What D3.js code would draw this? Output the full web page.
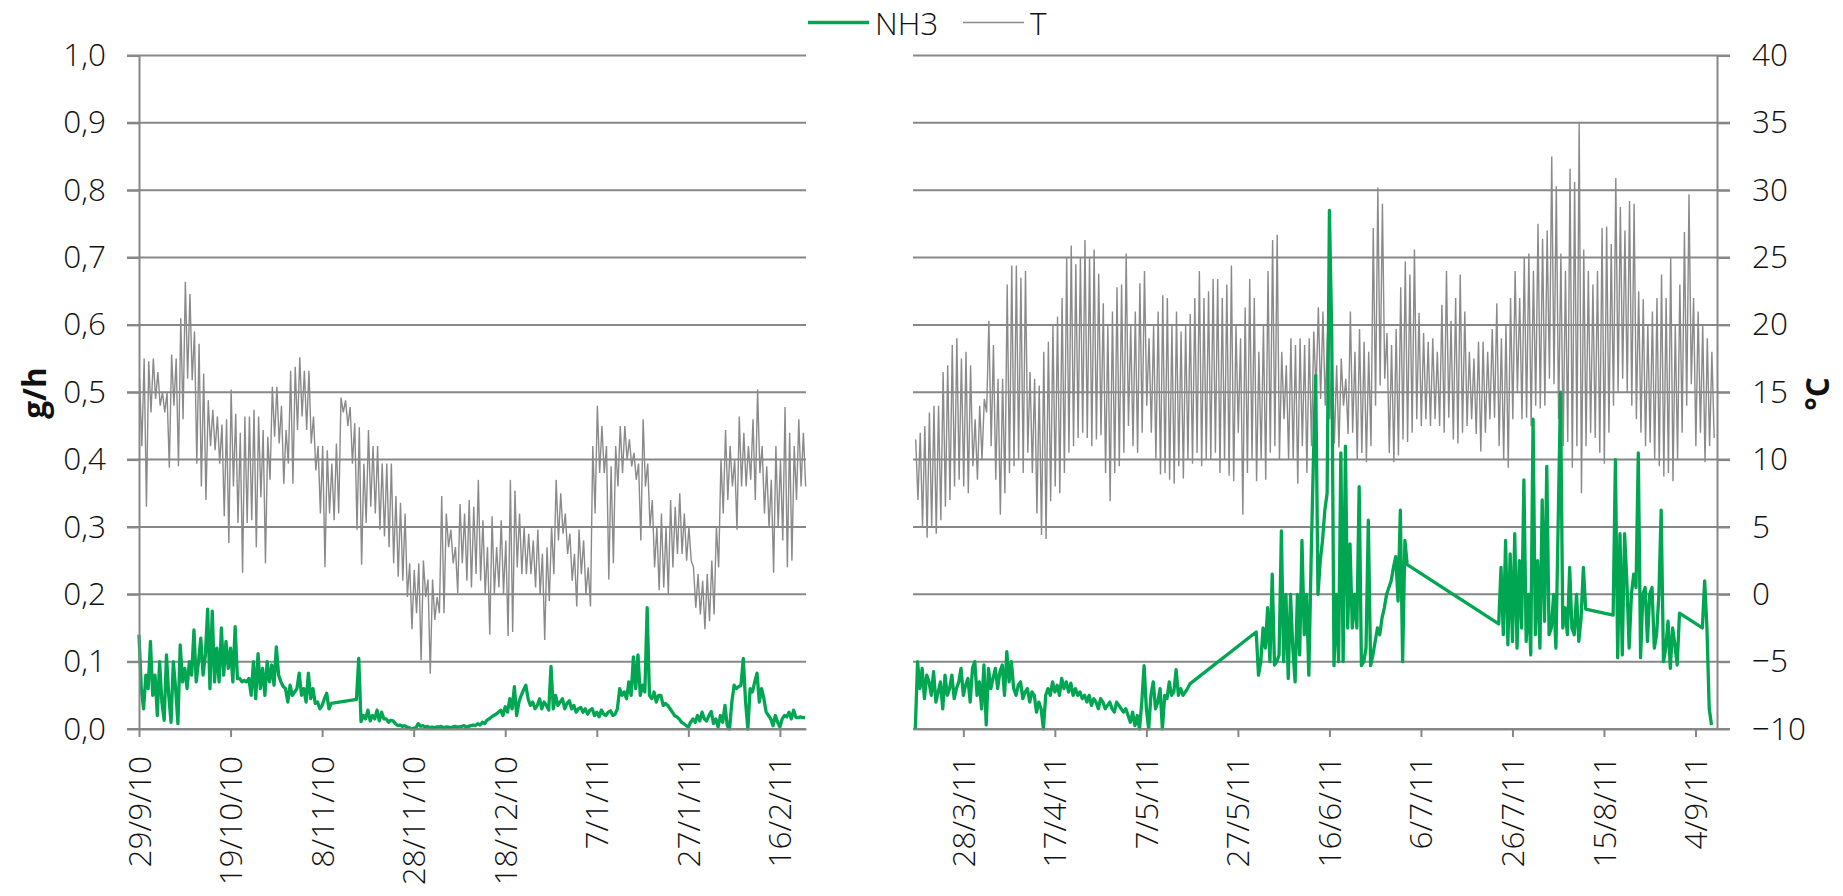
<!DOCTYPE html>
<html>
<head>
<meta charset="utf-8">
<script src="https://cdnjs.cloudflare.com/ajax/libs/d3/7.8.5/d3.min.js"></script>
<style>
body { margin: 0; background: #fff; }
svg text { font-family: "Open Sans", "Noto Sans", sans-serif; fill: #111; }
</style>
</head>
<body>
<script>
// canvas
var w = 1843;
var h = 896;

// ---- data ----
// two samples a day (12 h apart), left block starts 29/9/10, right block 17/3/11
// T in °C, NH3 in g/h, null = no measurement (line is bridged)
var leftStartDate = "29/9/10";
var rightStartDate = "17/3/11";

var leftTicks = ["29/9/10", "19/10/10", "8/11/10", "28/11/10", "18/12/10", "7/1/11", "27/1/11", "16/2/11"];
var rightTicks = ["28/3/11", "17/4/11", "7/5/11", "27/5/11", "16/6/11", "6/7/11", "26/7/11", "15/8/11", "4/9/11"];
var nh3Ticks = [0, 0.1, 0.2, 0.3, 0.4, 0.5, 0.6, 0.7, 0.8, 0.9, 1.0];
var tempTicks = [-10, -5, 0, 5, 10, 15, 20, 25, 30, 35, 40];

var leftTemp = [
  16,11, 17.5,6.5, 17.3,13.5, 17.5,14.5, 16.5,14, 15,13.5, 15,9.4, 17.8,14, 17.5,9.5, 20.5,13,
  23.2,16, 22.3,15.9, 19.5,9.7, 18.6,8, 16.4,7, 14.4,11, 13.7,10.7, 13.2,9.7, 12.6,5.8, 13,3.8,
  15.2,8, 13.4,5.3, 12,1.6, 13.2,5.3, 13.2,5.5, 13.7,3.5, 13.2,7.2, 12.2,2.3, 11.7,8.5, 15.4,11.7,
  15.4,11.2, 14,8.2, 12.2,9.7, 16.6,8.2, 16.9,12.2, 17.6,13.2, 16.6,12.2, 16.6,11.2, 13.2,9.2, 11,6,
  11,2, 10.7,6, 9.7,5.5, 11.2,6, 14.6,13.5, 14.4,12.5, 13.9,9.7, 12.7,4.8, 12.4,2.2, 9.7,5.3,
  12.2,6.5, 11,6, 11,4.8, 9.7,4.3, 9.7,3.5, 9.7,2.3, 7.3,1.3, 6.8,1, 6,-0.2, 2.3,-2.6,
  1.8,-1.4, 2.3,-4.9, 2.5,-0.2, 1.1,-5.9, 1.1,-1.9, -0.2,-1.4, 7.3,-1.4, 6,3.5, 4.8,2.3, 3.5,0.1,
  6.7,2.3, 6,1, 7,0.5, 6.5,1.5, 8.5,1, 5.5,0, 3.5,-3, 5.8,0, 3.5,0.5, 5.5,0,
  4,-3.1, 8.5,-2.8, 7.7,2, 6,1.5, 5,1.5, 4.5,1.5, 4,0.5, 4.8,0, 3,-3.4, 3.5,-0.5,
  5,1.5, 8.5,4, 7.5,4.5, 6,3, 4.5,1, 3,-0.9, 4.8,1.5, 4,0, 2,-0.9, 11,6,
  14,9, 12.5,9, 11,1.1, 9.5,2.3, 11,8, 12.5,9, 12.5,10, 11.5,9.5, 10.5,8.5, 9.7,4,
  13,8, 9.7,5, 7,2, 5,0.3, 6,0.5, 5,0, 7,2, 6.5,3, 7.5,3, 6,2.5,
  5,2.5, 2,-1, 1.5,-1.5, 1,-2.6, 1.5,-2, 2.5,-1.5, 5,2, 10,6, 12.2,7, 11,8,
  10,4.8, 13.2,8, 12,8, 11,8.5, 13,7, 15.2,9, 11,6, 9.5,5, 8.5,1.6, 11,5,
  10,4, 13.9,2, 12,2.5, 11,7, 13,8, 12,8
];

var leftNh3 = [
  0.14,0.06, 0.03,0.08, 0.06,0.13, 0.05,0.08, 0.02,0.1, 0.04,0.013, 0.11,0.05, 0.01,0.1, 0.06,0.008, 0.125,0.07,
  0.09,0.06, 0.1,0.08, 0.147,0.07, 0.1,0.135, 0.08,0.11, 0.178,0.06, 0.175,0.07, 0.12,0.07, 0.15,0.08, 0.13,0.09,
  0.12,0.07, 0.152,0.075, 0.075,0.07, 0.072,0.07, 0.075,0.05, 0.1,0.045, 0.112,0.06, 0.09,0.05, 0.1,0.07, 0.095,0.065,
  0.122,0.08, 0.07,0.063, 0.06,0.04, 0.065,0.05, 0.055,0.06, 0.083,0.05, 0.06,0.04, 0.083,0.045, 0.06,0.038, 0.04,0.03,
  0.035,0.045, 0.053,0.03, 0.038,null, null,null, null,null, null,null, null,null, null,0.044, 0.105,0.011, 0.02,0.015,
  0.028,0.012, 0.02,0.015, 0.028,0.012, 0.025,0.015, 0.015,0.01, 0.013,0.012, 0.008,0.005, 0.006,0.004, 0.005,0.003, 0.002,0,
  0.001,0.002, 0.008,0.004, 0.005,0.003, 0.004,0.002, 0.003,0.002, 0.003,0.003, 0.004,0.002, 0.003,0.003, 0.002,0.003, 0.004,0.003,
  0.003,0.004, 0.005,0.003, 0.004,0.005, 0.006,0.005, 0.008,0.006, 0.01,0.008, 0.013,0.015, 0.018,0.02, 0.022,0.025, 0.028,0.02,
  0.033,0.025, 0.045,0.03, 0.063,0.02, 0.04,0.05, 0.058,0.065, 0.045,0.035, 0.04,0.03, 0.035,0.045, 0.03,0.04, 0.035,0.028,
  0.093,0.03, 0.05,0.035, 0.04,0.045, 0.03,0.038, 0.042,0.03, 0.035,0.025, 0.03,0.032, 0.025,0.03, 0.022,0.028, 0.03,0.02,
  0.025,0.018, 0.028,0.022, 0.02,0.025, 0.027,0.02, 0.022,0.03, 0.06,0.05, 0.055,0.045, 0.07,0.05, 0.107,0.06, 0.11,0.05,
  0.065,0.055, 0.18,0.05, 0.045,0.055, 0.04,0.05, 0.05,0.035, 0.038,0.035, 0.03,0.025, 0.02,0.018, 0.015,0.01, 0.008,0.005,
  0.003,0.01, 0.015,0.01, 0.02,0.012, 0.025,0.015, 0.012,0.02, 0.026,0.008, 0.015,0.003, 0.02,0.01, 0.035,0.005, 0,0.04,
  0.065,0.06, 0.063,0.065, 0.105,0.04, 0,0.06, 0.055,0.07, 0.083,0.04, 0.06,0.045, 0.025,0.02, 0.015,0.005, 0.02,0.01,
  0.003,0.015, 0.02,0.018, 0.025,0.015, 0.028,0.017, 0.017,0.018, 0.017,0.017
];

var rightTemp = [
  11.5,7, 12,5, 12.5,4.2, 13.5,5, 14,4.5, 14,5.5, 16.5,6.5, 17,7, 18.5,8, 19,8.5,
  17.5,8, 18,7.5, 17,9.5, 13,8.5, 14,10, 14.5,13.5, 20.3,11, 18.5,8.5, 16,5.9, 16,7.5,
  23,9, 24.4,9.5, 24.4,10, 23.5,9, 24,10.5, 16.5,9, 16,6, 15.5,4.4, 18,4.1, 18.75,6.9,
  20,8, 20.6,7.5, 22,9, 25,10.5, 25.9,11, 24.5,11.6, 25,12, 26.3,11.6, 25,11, 25.6,11.5,
  23.8,11.8, 21.6,9, 20,6.9, 21,9, 22.8,9.5, 23,10.5, 25.3,12.5, 20,11, 21,10.5, 23.1,12,
  24,14, 19,12, 20,10, 21,8.9, 22.2,9, 22,8.5, 20,8.2, 21,9.5, 19.5,8.6, 20,10,
  20.8,9.7, 22,10.5, 24,9.5, 22,10, 22.5,10, 23.4,10.5, 23.4,9, 22,10, 23,8.8, 24.4,8.4,
  20,12, 19,5.9, 21.3,9, 23.4,10, 22,8.4, 18,10, 20,8.5, 24,10.5, 26.3,11, 26.7,10,
  18,13, 17,10, 19,10, 18.5,8.2, 19,11, 18.5,9, 19,11, 19.5,15, 21.3,14.5, 21,14,
  19.4,13, 18,11.2, 17,10.9, 17.5,14, 16,11.9, 21,12, 18,10, 19.7,10.5, 18.75,9.8, 18,11,
  27.2,14, 30.2,15.5, 29,16, 19.4,10.5, 18.5,9.8, 19.7,10.3, 22.8,11.5, 24.7,11.3, 23.75,12, 25.6,13,
  20.9,12.5, 19.4,13, 18.75,12.5, 19,13, 18,12.5, 21.5,12, 24,13.1, 20.3,11.5, 22,11.2, 23.75,12,
  21,12.5, 18,13, 17.5,11.9, 18.75,10.6, 18.75,12, 18,13, 19.7,13.1, 21.6,11, 19,10, 20,9.4,
  22,13, 24,15, 22,13, 25,13.1, 25.3,12.5, 24,14, 27.5,13.8, 26.4,14, 27,16, 32.5,15.6,
  30.3,13, 25.3,11, 24,11.3, 31.6,9.4, 30.6,11, 35,7.5, 25.6,11, 24,12, 23,11.6, 24,10.5,
  27.2,9.7, 27.3,12, 26,14, 30.9,15, 28.75,16, 27,15, 29.2,14, 29,13, 22.5,12, 21.9,11,
  20,11.25, 21,10, 22,9.5, 23.75,8.75, 22,9, 25,8.4, 20,10, 23,12, 26.9,14, 29.7,15.6,
  22,11, 21,12, 20,9.8, 19,11, 18,11.6
];

var rightNh3 = [
  0,0.1, 0.06,0.09, 0.045,0.08, 0.07,0.05, 0.085,0.04, 0.055,0.07, 0.03,0.08, 0.05,0.06, 0.08,0.045, 0.06,0.07,
  0.09,0.05, 0.065,0.075, 0.04,0.09, 0.1,0.05, 0.07,0.03, 0.095,0.006, 0.09,0.06, 0.075,0.09, 0.06,0.085, 0.095,0.05,
  0.115,0.07, 0.1,0.06, 0.05,0.065, 0.07,0.045, 0.055,0.06, 0.04,0.055, 0.05,0.025, 0.04,0.03, 0,0.05, 0.06,0.05,
  0.07,0.055, 0.065,0.05, 0.075,0.06, 0.07,0.055, 0.068,0.05, 0.06,0.05, 0.055,0.045, 0.05,0.04, 0.05,0.035, 0.045,0.04,
  0.03,0.045, 0.04,0.03, 0.035,0.04, 0.03,0.025, 0.04,0.035, 0.03,0.025, 0.03,0.02, 0.01,0.025, 0.005,0.02, 0,0.04,
  0.094,0.03, 0,0.05, 0.07,0.03, 0.04,0.06, 0,0.05, 0.045,0.07, 0.05,0.055, 0.088,0.05, 0.06,0.05, 0.055,0.06,
  0.067,null, null,null, null,null, null,null, null,null, null,null, null,null, null,null, null,null, null,null,
  null,null, null,null, null,null, null,null, null,0.144, 0.08,0.1, 0.15,0.12, 0.18,0.1, 0.23,0.095, 0.1,0.11,
  0.294,0.1, 0.2,0.075, 0.2,0.12, 0.07,0.2, 0.11,0.28, 0.14,0.2, 0.08,0.25, 0.4,0.525, 0.2,0.25, 0.28,0.325,
  0.35,0.77, 0.59,0.094, 0.2,0.1, 0.41,0.1, 0.42,0.15, 0.275,0.15, 0.2,0.15, 0.36,0.094, 0.1,0.12, 0.31,0.094,
  0.11,0.13, 0.15,0.14, 0.165,0.18, 0.2,0.21, 0.22,0.24, 0.256,0.19, 0.325,0.1, 0.28,0.244, null,null, null,null,
  null,null, null,null, null,null, null,null, null,null, null,null, null,null, null,null, null,null, null,null,
  null,null, null,null, null,null, null,null, null,null, null,null, null,null, null,0.156, 0.24,0.14, 0.28,0.125,
  0.26,0.13, 0.29,0.12, 0.25,0.15, 0.37,0.13, 0.2,0.11, 0.46,0.14, 0.25,0.12, 0.34,0.16, 0.39,0.14, 0.15,0.2,
  0.12,0.31, 0.5,0.15, 0.18,0.14, 0.24,0.15, 0.14,0.2, 0.13,0.165, 0.24,0.178, null,null, null,null, null,null,
  null,null, null,null, null,0.169, 0.4,0.106, 0.29,0.11, 0.29,0.22, 0.12,0.2, 0.23,0.21, 0.41,0.106, 0.2,0.21,
  0.13,0.2, 0.21,0.12, 0.14,0.2, 0.325,0.1, 0.12,0.16, 0.09,0.15, 0.125,0.095, 0.172,null, null,null, null,null,
  null,null, null,null, 0.15,0.22, 0.15,0.03, 0.006,null
];

// ---- layout magic numbers ----
var plotTop = 55.5;
var plotBottom = 729;
var leftX0 = 139, leftX1 = 806;
var rightX0 = 913, rightX1 = 1717;
var leftDays = 145.7;
var rightDays = 175.7;
var fontSize = 31.5;
var gridColor = "#878787";
var green = "#00a651";
var grey = "#8a8a8a";

var parseDate = d3.timeParse("%d/%m/%y");
var fmtComma = function(d) { return d3.format(".1f")(d).replace(".", ","); };
var dayMs = 864e5;

var leftStart = parseDate(leftStartDate);
var rightStart = parseDate(rightStartDate);

var xLeft = d3.scaleTime()
    .domain([leftStart, new Date(leftStart.getTime() + leftDays * dayMs)])
    .range([leftX0, leftX1]);
var xRight = d3.scaleTime()
    .domain([rightStart, new Date(rightStart.getTime() + rightDays * dayMs)])
    .range([rightX0, rightX1]);

var y = d3.scaleLinear().domain([0, 1]).range([plotBottom, plotTop]);
var yT = d3.scaleLinear().domain([-10, 40]).range([plotBottom, plotTop]);

// turn the half-day arrays into {date, v}
function toSeries(values, start, offsetHours) {
    var out = [];
    values.forEach(function(v, i) {
        if (v === null) return;
        out.push({ date: new Date(start.getTime() + (i * 12 + offsetHours) * 3600e3), v: v });
    });
    return out;
}

var svg = d3.select("body")
    .append("svg")
    .attr("width", w)
    .attr("height", h);

// gridlines
svg.append("g")
    .selectAll("line")
    .data(nh3Ticks)
    .enter().append("line")
    .attr("x1", leftX0 - 12).attr("x2", leftX1)
    .attr("y1", function(d) { return y(d); })
    .attr("y2", function(d) { return y(d); })
    .attr("stroke", gridColor).attr("stroke-width", 2);

svg.append("g")
    .selectAll("line")
    .data(tempTicks)
    .enter().append("line")
    .attr("x1", rightX0).attr("x2", rightX1 + 13)
    .attr("y1", function(d) { return yT(d); })
    .attr("y2", function(d) { return yT(d); })
    .attr("stroke", gridColor).attr("stroke-width", 2);

// lines
var lineLeftT = d3.line().x(function(d) { return xLeft(d.date); }).y(function(d) { return yT(d.v); });
var lineLeftN = d3.line().x(function(d) { return xLeft(d.date); }).y(function(d) { return y(d.v); });
var lineRightT = d3.line().x(function(d) { return xRight(d.date); }).y(function(d) { return yT(d.v); });
var lineRightN = d3.line().x(function(d) { return xRight(d.date); }).y(function(d) { return y(d.v); });

svg.append("path")
    .datum(toSeries(leftTemp, leftStart, 3))
    .attr("d", lineLeftT)
    .attr("fill", "none").attr("stroke", grey).attr("stroke-width", 1.4);

svg.append("path")
    .datum(toSeries(rightTemp, rightStart, 14))
    .attr("d", lineRightT)
    .attr("fill", "none").attr("stroke", grey).attr("stroke-width", 1.4);

svg.append("path")
    .datum(toSeries(leftNh3, leftStart, 0))
    .attr("d", lineLeftN)
    .attr("fill", "none").attr("stroke", green).attr("stroke-width", 3.3)
    .attr("stroke-linejoin", "round");

svg.append("path")
    .datum(toSeries(rightNh3, rightStart, 12))
    .attr("d", lineRightN)
    .attr("fill", "none").attr("stroke", green).attr("stroke-width", 3.3)
    .attr("stroke-linejoin", "round");

// axes
function styleAxis(g) {
    g.selectAll(".domain").attr("stroke", gridColor).attr("stroke-width", 2);
    g.selectAll(".tick line").attr("stroke", gridColor).attr("stroke-width", 2);
    g.selectAll("text")
        .attr("font-size", fontSize)
        .style("font-family", "'Open Sans', 'Noto Sans', sans-serif")
        .style("font-weight", 300)
        .attr("fill", "#111");
}

var gLeftY = svg.append("g")
    .attr("transform", "translate(" + leftX0 + ",0)")
    .call(d3.axisLeft(y).tickValues(nh3Ticks).tickFormat(fmtComma).tickSize(12).tickSizeOuter(0).tickPadding(21));
styleAxis(gLeftY);

var gRightY = svg.append("g")
    .attr("transform", "translate(" + rightX1 + ",0)")
    .call(d3.axisRight(yT).tickValues(tempTicks).tickSize(13).tickSizeOuter(0).tickPadding(22));
styleAxis(gRightY);

function bottomAxis(scale, ticks) {
    var g = svg.append("g")
        .attr("transform", "translate(0," + plotBottom + ")")
        .call(d3.axisBottom(scale)
            .tickValues(ticks.map(parseDate))
            .tickFormat(d3.timeFormat("%-d/%-m/%y"))
            .tickSize(8).tickSizeOuter(0));
    styleAxis(g);
    g.selectAll("text")
        .attr("x", -27).attr("y", 0).attr("dy", "0.35em")
        .attr("transform", "rotate(-90)")
        .style("text-anchor", "end");
    return g;
}
bottomAxis(xLeft, leftTicks);
bottomAxis(xRight, rightTicks);

// axis titles
svg.append("text")
    .attr("transform", "translate(33,393) rotate(-90)")
    .attr("text-anchor", "middle").attr("dominant-baseline", "central")
    .attr("font-size", fontSize).attr("font-weight", "bold")
    .text("g/h");

svg.append("text")
    .attr("transform", "translate(1816,394) rotate(-90)")
    .attr("text-anchor", "middle").attr("dominant-baseline", "central")
    .attr("font-size", fontSize).attr("font-weight", "bold")
    .text("°C");

// legend
var legend = [
    { name: "NH3", color: green, width: 3.5, x: 808 },
    { name: "T", color: grey, width: 1.6, x: 963 }
];
var lg = svg.append("g").selectAll("g")
    .data(legend)
    .enter().append("g")
    .attr("transform", function(d) { return "translate(" + d.x + ",22.5)"; });
lg.append("line")
    .attr("x1", 0).attr("x2", 61)
    .attr("stroke", function(d) { return d.color; })
    .attr("stroke-width", function(d) { return d.width; });
lg.append("text")
    .attr("x", 67).attr("dominant-baseline", "central")
    .attr("font-size", fontSize).style("font-weight", 300)
    .text(function(d) { return d.name; });
</script>
</body>
</html>
